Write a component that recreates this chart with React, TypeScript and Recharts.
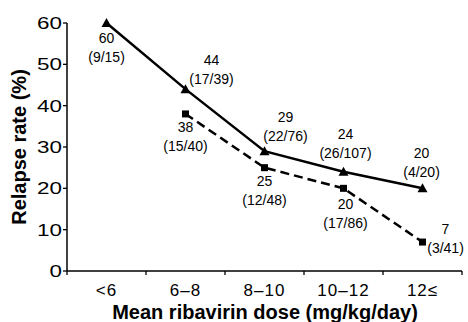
import React from 'react';
import { LineChart, Line, XAxis, YAxis, LabelList } from 'recharts';

const categories = ['<6', '6–8', '8–10', '10–12', '12≤'];
const solidRates: (number | null)[] = [60, 44, 29, 24, 20];
const solidCounts: (string | null)[] = ['9/15', '17/39', '22/76', '26/107', '4/20'];
const dashedRates: (number | null)[] = [null, 38, 25, 20, 7];
const dashedCounts: (string | null)[] = [null, '15/40', '12/48', '17/86', '3/41'];
const yTicks = [0, 10, 20, 30, 40, 50, 60];

// label placement (layout only): [dx, dy of first line baseline]
const solidLabelOffsets: [number, number][] = [[0, 20], [26, -24], [21, -29], [2, -33], [-1, -30]];
const dashedLabelOffsets: [number, number][] = [[0, 0], [0, 18], [0, 18], [2, 21], [23, -8]];

const FONT = '"Liberation Sans", Arial, Helvetica, sans-serif';

const data = categories.map((c, i) => ({
  pos: i + 0.5,
  cat: c,
  solid: solidRates[i],
  dashed: dashedRates[i],
}));

const xTickValues: number[] = [];
for (let i = 0; i <= categories.length * 2; i++) xTickValues.push(i / 2);

const XTick = (props: any) => {
  const { x, y, payload } = props;
  const v = payload.value as number;
  if (Number.isInteger(v)) {
    return <line x1={x} x2={x} y1={y} y2={y + 4} stroke="#000" strokeWidth={1.3} />;
  }
  const label = categories[Math.floor(v)];
  return (
    <text x={x} y={y + 25} textAnchor="middle" fontFamily={FONT} fontSize={17} letterSpacing={1} fill="#000">
      {label}
    </text>
  );
};

const YTick = (props: any) => {
  const { x, y, payload } = props;
  return (
    <text
      transform={`translate(${x + 1}, ${y + 6}) scale(1.4, 1)`}
      textAnchor="end"
      fontFamily={FONT}
      fontSize={16}
      fill="#000"
    >
      {payload.value}
    </text>
  );
};

const makeLabel = (counts: (string | null)[], offsets: [number, number][]) => (props: any) => {
  const { x, y, value, index } = props;
  if (value == null || counts[index] == null) return null;
  const [dx, dy] = offsets[index];
  return (
    <g>
      <text x={x + dx} y={y + dy} textAnchor="middle" fontFamily={FONT} fontSize={14} fill="#000">
        {value}
      </text>
      <text x={x + dx} y={y + dy + 19} textAnchor="middle" fontFamily={FONT} fontSize={14} fill="#000">
        ({counts[index]})
      </text>
    </g>
  );
};

const TriangleDot = (props: any) => {
  const { cx, cy, index } = props;
  if (cx == null || cy == null) return <g key={`t${index}`} />;
  const s = 5;
  return (
    <polygon
      key={`t${index}`}
      points={`${cx},${cy - s} ${cx - s},${cy + s * 0.8} ${cx + s},${cy + s * 0.8}`}
      fill="#000"
    />
  );
};

const SquareDot = (props: any) => {
  const { cx, cy, index, value } = props;
  if (cx == null || cy == null || value == null) return <g key={`s${index}`} />;
  return <rect key={`s${index}`} x={cx - 3.5} y={cy - 3.5} width={7} height={7} fill="#000" />;
};

export default function App() {
  return (
    <div style={{ position: 'absolute', left: 0, top: 0, width: 468, height: 322, background: '#fff' }}>
      <LineChart width={468} height={322} data={data} margin={{ top: 23, right: 6, bottom: 0, left: 0 }}>
        <XAxis
          dataKey="pos"
          type="number"
          domain={[0, 5]}
          ticks={xTickValues}
          interval={0}
          tick={<XTick />}
          tickLine={false}
          tickSize={0}
          tickMargin={0}
          height={51}
          axisLine={{ stroke: '#000', strokeWidth: 1.5 }}
          label={{
            content: () => (
              <text x={265} y={319} textAnchor="middle" fontFamily={FONT} fontWeight="bold" fontSize={20} fill="#000">
                Mean ribavirin dose (mg/kg/day)
              </text>
            ),
          }}
        />
        <YAxis
          type="number"
          domain={[0, 60]}
          ticks={yTicks}
          interval={0}
          width={67}
          tickSize={4}
          tickMargin={2}
          tick={<YTick />}
          tickLine={{ stroke: '#000', strokeWidth: 1.3 }}
          axisLine={{ stroke: '#000', strokeWidth: 1.5 }}
          label={{
            content: () => (
              <text
                x={26}
                y={147}
                transform="rotate(-90, 26, 147)"
                textAnchor="middle"
                fontFamily={FONT}
                fontWeight="bold"
                fontSize={20}
                fill="#000"
              >
                Relapse rate (%)
              </text>
            ),
          }}
        />
        <Line
          dataKey="solid"
          stroke="#000"
          strokeWidth={2.5}
          dot={<TriangleDot />}
          activeDot={false}
          isAnimationActive={false}
        >
          <LabelList dataKey="solid" content={makeLabel(solidCounts, solidLabelOffsets)} />
        </Line>
        <Line
          dataKey="dashed"
          stroke="#000"
          strokeWidth={2.5}
          strokeDasharray="9 5"
          dot={<SquareDot />}
          activeDot={false}
          connectNulls={false}
          isAnimationActive={false}
        >
          <LabelList dataKey="dashed" content={makeLabel(dashedCounts, dashedLabelOffsets)} />
        </Line>
      </LineChart>
    </div>
  );
}
